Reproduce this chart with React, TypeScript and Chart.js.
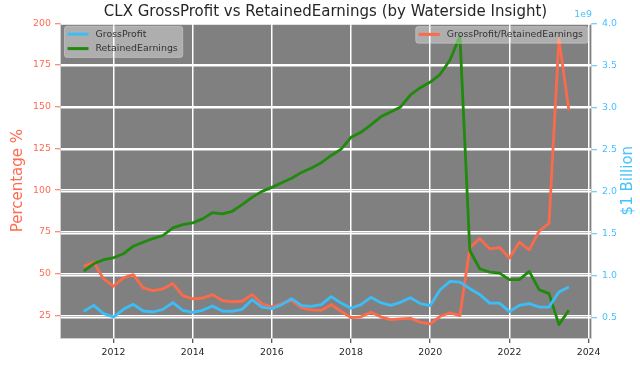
import React, { useEffect, useRef } from 'react';
import { Chart, registerables } from 'chart.js';

Chart.register(...registerables);

const FONT = "'DejaVu Sans', sans-serif";

// Quarter-end dates
const quarterEnds = [
  '2011-03-31', '2011-06-30', '2011-09-30', '2011-12-31',
  '2012-03-31', '2012-06-30', '2012-09-30', '2012-12-31',
  '2013-03-31', '2013-06-30', '2013-09-30', '2013-12-31',
  '2014-03-31', '2014-06-30', '2014-09-30', '2014-12-31',
  '2015-03-31', '2015-06-30', '2015-09-30', '2015-12-31',
  '2016-03-31', '2016-06-30', '2016-09-30', '2016-12-31',
  '2017-03-31', '2017-06-30', '2017-09-30', '2017-12-31',
  '2018-03-31', '2018-06-30', '2018-09-30', '2018-12-31',
  '2019-03-31', '2019-06-30', '2019-09-30', '2019-12-31',
  '2020-03-31', '2020-06-30', '2020-09-30', '2020-12-31',
  '2021-03-31', '2021-06-30', '2021-09-30', '2021-12-31',
  '2022-03-31', '2022-06-30', '2022-09-30', '2022-12-31',
  '2023-03-31', '2023-06-30',
];

// GrossProfit ($, in units of 1e9)
const grossProfit = [
  0.577, 0.648, 0.550, 0.509, 0.601, 0.660, 0.581, 0.569, 0.601, 0.680,
  0.589, 0.565, 0.589, 0.640, 0.581, 0.577, 0.601, 0.716, 0.628, 0.609,
  0.656, 0.728, 0.645, 0.636, 0.656, 0.751, 0.675, 0.613, 0.656, 0.743,
  0.680, 0.648, 0.684, 0.739, 0.668, 0.645, 0.834, 0.933, 0.924, 0.846,
  0.778, 0.675, 0.675, 0.573, 0.648, 0.668, 0.628, 0.628, 0.806, 0.865,
];

// RetainedEarnings ($, in units of 1e9)
const retainedEarnings = [
  1.055, 1.142, 1.190, 1.213, 1.261, 1.351, 1.398, 1.442, 1.478, 1.569,
  1.608, 1.628, 1.676, 1.750, 1.735, 1.766, 1.845, 1.931, 2.003, 2.050,
  2.106, 2.159, 2.228, 2.281, 2.343, 2.429, 2.505, 2.645, 2.704, 2.793,
  2.888, 2.947, 3.006, 3.148, 3.235, 3.302, 3.394, 3.563, 3.848, 1.300,
  1.083, 1.043, 1.031, 0.953, 0.953, 1.051, 0.834, 0.787, 0.419, 0.589,
];

// GrossProfit / RetainedEarnings (%)
const ratioPct = [
  54.5, 56.9, 46.9, 42.5, 47.5, 49.5, 41.5, 39.9, 40.9, 44.1,
  36.9, 35.0, 35.3, 37.5, 33.9, 33.2, 33.5, 37.5, 32.0, 30.2,
  32.0, 34.1, 29.6, 28.4, 28.1, 31.4, 27.5, 23.7, 24.2, 26.9,
  24.2, 22.5, 23.0, 23.3, 20.9, 20.0, 24.5, 26.6, 24.9, 65.5,
  71.1, 64.9, 65.7, 59.4, 68.9, 64.3, 75.5, 80.1, 190.8, 148.0,
];

const TITLE = 'CLX GrossProfit vs RetainedEarnings (by Waterside Insight)';
const LEFT_TITLE = 'Percentage %';
const RIGHT_TITLE = '$1 Billion';
const RIGHT_OFFSET_TEXT = '1e9';

const COLOR_GP = '#3dbdf7';
const COLOR_RE = '#1f8a0c';
const COLOR_RATIO = '#fb6a4a';
const COLOR_LEFT_AXIS = '#ff6a50';
const COLOR_RIGHT_AXIS = '#45c2ff';

function toYear(d: string): number {
  const [y, m] = d.split('-').map(Number);
  return y + m / 12;
}

const LEGEND_FONT_SIZE = 9.4;

const plotBgPlugin = {
  id: 'plotBg',
  beforeDraw(chart: any) {
    const { ctx, chartArea } = chart;
    ctx.save();
    ctx.fillStyle = '#808080';
    ctx.fillRect(chartArea.left, chartArea.top, chartArea.right - chartArea.left, chartArea.bottom - chartArea.top);
    ctx.restore();
  },
};

function roundRectPath(ctx: CanvasRenderingContext2D, x: number, y: number, w: number, h: number, r: number) {
  ctx.beginPath();
  ctx.moveTo(x + r, y);
  ctx.lineTo(x + w - r, y);
  ctx.quadraticCurveTo(x + w, y, x + w, y + r);
  ctx.lineTo(x + w, y + h - r);
  ctx.quadraticCurveTo(x + w, y + h, x + w - r, y + h);
  ctx.lineTo(x + r, y + h);
  ctx.quadraticCurveTo(x, y + h, x, y + h - r);
  ctx.lineTo(x, y + r);
  ctx.quadraticCurveTo(x, y, x + r, y);
  ctx.closePath();
}

const dualLegendPlugin = {
  id: 'dualLegend',
  afterDatasetsDraw(chart: any) {
    const { ctx, chartArea } = chart;
    const ds = chart.data.datasets;
    ctx.save();
    ctx.font = `${LEGEND_FONT_SIZE}px ${FONT}`;
    const rowH = 14.5;
    const drawBox = (items: number[], anchorX: number, top: number, alignRight: boolean) => {
      const textW = Math.max(...items.map((i) => ctx.measureText(ds[i].label).width));
      const w = 3 + 21 + 7 + textW + 5;
      const h = 7.8 + rowH * (items.length - 1) + 8.8;
      const x = alignRight ? anchorX - w : anchorX;
      roundRectPath(ctx, x, top, w, h, 2.5);
      ctx.fillStyle = 'rgba(255,255,255,0.36)';
      ctx.fill();
      ctx.strokeStyle = 'rgba(210,210,210,0.55)';
      ctx.lineWidth = 1;
      ctx.stroke();
      items.forEach((i, k) => {
        const cy = top + 7.8 + k * rowH;
        ctx.strokeStyle = ds[i].borderColor;
        ctx.lineWidth = 3;
        ctx.beginPath();
        ctx.moveTo(x + 3, cy);
        ctx.lineTo(x + 24, cy);
        ctx.stroke();
        ctx.fillStyle = '#333333';
        ctx.textAlign = 'left';
        ctx.textBaseline = 'middle';
        ctx.fillText(ds[i].label, x + 31, cy);
      });
    };
    drawBox([0, 1], chartArea.left + 4.5, chartArea.top + 3, false);
    drawBox([2], chartArea.right - 3, chartArea.top + 3.3, true);
    ctx.restore();
  },
};

const extraTextPlugin = {
  id: 'extraText',
  afterDraw(chart: any) {
    const { ctx, chartArea } = chart;
    const y1 = chart.scales.y1;
    ctx.save();
    ctx.fillStyle = COLOR_RIGHT_AXIS;
    ctx.font = `15px ${FONT}`;
    ctx.textAlign = 'center';
    ctx.textBaseline = 'middle';
    ctx.translate(y1.right - 11.5, (chartArea.top + chartArea.bottom) / 2);
    ctx.rotate(-Math.PI / 2);
    ctx.fillText(RIGHT_TITLE, 0, 0);
    ctx.restore();

    ctx.save();
    ctx.fillStyle = COLOR_RIGHT_AXIS;
    ctx.font = `${LEGEND_FONT_SIZE}px ${FONT}`;
    ctx.textAlign = 'right';
    ctx.textBaseline = 'middle';
    ctx.fillText(RIGHT_OFFSET_TEXT, chartArea.right + 1, chartArea.top - 8.5);
    ctx.restore();
  },
};

export default function App() {
  const canvasRef = useRef<HTMLCanvasElement | null>(null);

  useEffect(() => {
    const canvas = canvasRef.current;
    if (!canvas) return;
    const xs = quarterEnds.map(toYear);
    const tickFont = { family: FONT, size: LEGEND_FONT_SIZE };

    const chart = new Chart(canvas, {
      type: 'line',
      data: {
        datasets: [
          {
            label: 'GrossProfit',
            data: xs.map((x, i) => ({ x, y: grossProfit[i] })),
            yAxisID: 'y1',
            borderColor: COLOR_GP,
            backgroundColor: COLOR_GP,
            borderWidth: 2.8,
            pointRadius: 0,
            borderJoinStyle: 'round',
            tension: 0,
          },
          {
            label: 'RetainedEarnings',
            data: xs.map((x, i) => ({ x, y: retainedEarnings[i] })),
            yAxisID: 'y1',
            borderColor: COLOR_RE,
            backgroundColor: COLOR_RE,
            borderWidth: 2.8,
            pointRadius: 0,
            borderJoinStyle: 'round',
            tension: 0,
          },
          {
            label: 'GrossProfit/RetainedEarnings',
            data: xs.map((x, i) => ({ x, y: ratioPct[i] })),
            yAxisID: 'y',
            borderColor: COLOR_RATIO,
            backgroundColor: COLOR_RATIO,
            borderWidth: 2.8,
            pointRadius: 0,
            borderJoinStyle: 'round',
            tension: 0,
          },
        ],
      },
      options: {
        animation: false,
        responsive: false,
        maintainAspectRatio: false,
        layout: { padding: 0 },
        plugins: {
          legend: { display: false },
          tooltip: { enabled: false },
          title: {
            display: true,
            text: TITLE,
            fullSize: false,
            color: '#262626',
            font: { family: FONT, size: 15, weight: 'normal' },
            padding: { top: 3, bottom: 2.3 },
          },
        },
        scales: {
          x: {
            type: 'linear',
            min: 2010.65,
            max: 2024.06,
            ticks: {
              stepSize: 2,
              includeBounds: false,
              autoSkip: false,
              maxRotation: 0,
              color: '#262626',
              font: tickFont,
              padding: 4,
              callback: (v: any) => String(v),
            },
            grid: { color: '#ffffff', lineWidth: 1.5, tickLength: 5, tickColor: '#262626', tickWidth: 1 },
            border: { display: true, color: '#d0d0d0', width: 1 },
            afterFit: (s: any) => { s.height = 28; },
          },
          y: {
            type: 'linear',
            position: 'left',
            min: 11.5,
            max: 200,
            ticks: {
              stepSize: 25,
              includeBounds: false,
              color: COLOR_LEFT_AXIS,
              font: tickFont,
              padding: 4,
              callback: (v: any) => String(v),
            },
            grid: { color: '#ffffff', lineWidth: 1.5, tickLength: 5, tickColor: COLOR_LEFT_AXIS, tickWidth: 1 },
            border: { display: true, color: '#d0d0d0', width: 1 },
            title: {
              display: true,
              text: LEFT_TITLE,
              color: COLOR_LEFT_AXIS,
              font: { family: FONT, size: 15 },
              padding: { top: 9, bottom: 0 },
            },
            afterFit: (s: any) => { s.width = 60; },
          },
          y1: {
            type: 'linear',
            position: 'right',
            min: 0.26,
            max: 4.0,
            ticks: {
              stepSize: 0.5,
              includeBounds: false,
              color: COLOR_RIGHT_AXIS,
              font: tickFont,
              padding: 5,
              callback: (v: any) => Number(v).toFixed(1),
            },
            grid: { color: '#ffffff', lineWidth: 1.5, tickLength: 6, tickColor: COLOR_RIGHT_AXIS, tickWidth: 1 },
            border: { display: true, color: '#d0d0d0', width: 1 },
            afterFit: (s: any) => { s.width = 49; },
          },
        },
      },
      plugins: [plotBgPlugin, dualLegendPlugin, extraTextPlugin],
    } as any);

    return () => chart.destroy();
  }, []);

  return (
    <div style={{ position: 'fixed', left: 0, top: 0, width: 640, height: 366, background: '#ffffff' }}>
      <canvas ref={canvasRef} width={640} height={366} style={{ width: 640, height: 366, display: 'block' }} />
    </div>
  );
}
